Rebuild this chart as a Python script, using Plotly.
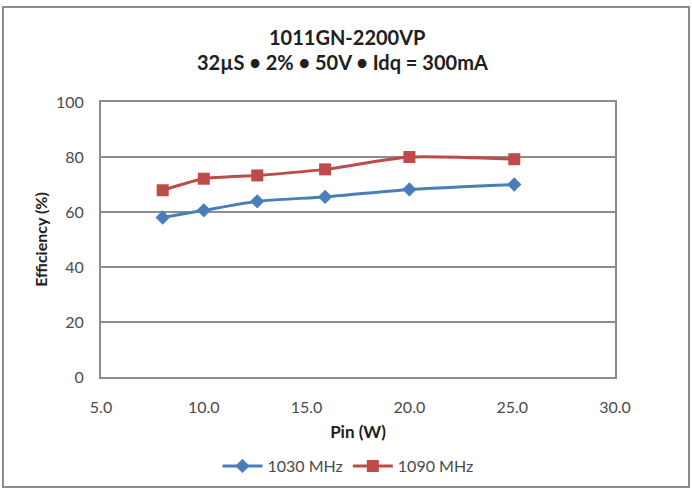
import plotly.graph_objects as go

pin_w = [8.0, 10.0, 12.6, 15.9, 20.0, 25.1]
eff_1030 = [58.0, 60.6, 63.9, 65.5, 68.2, 70.0]
eff_1090 = [67.9, 72.1, 73.3, 75.5, 80.0, 79.2]
series_names = ["1030 MHz", "1090 MHz"]
title_lines = ["1011GN-2200VP", "32µS • 2% • 50V • Idq = 300mA"]
x_ticks = [5, 10, 15, 20, 25, 30]
y_ticks = [0, 20, 40, 60, 80, 100]

FONT = "Lato"
L, R, T, B = 101, 77, 102, 112
W, H = 692, 489
pw, ph = W - L - R, H - T - B

def px(xp):
    return (xp - L) / pw

def py(yp):
    return (H - B - yp) / ph

fig = go.Figure()
fig.add_trace(go.Scatter(
    x=pin_w, y=eff_1030, name=series_names[0], mode="lines+markers",
    line=dict(color="#4A7EBB", width=3, shape="spline", smoothing=0.6),
    marker=dict(symbol="diamond", size=11, color="#4A7EBB"),
))
fig.add_trace(go.Scatter(
    x=pin_w, y=eff_1090, name=series_names[1], mode="lines+markers",
    line=dict(color="#BE4B48", width=3, shape="spline", smoothing=0.6),
    marker=dict(symbol="square", size=12, color="#BE4B48"),
))

TICKC = "#4A4A4A"
fig.update_layout(
    width=W, height=H,
    margin=dict(l=L, r=R, t=T, b=B, autoexpand=False),
    paper_bgcolor="white", plot_bgcolor="white",
    font=dict(family=FONT, size=16, color=TICKC),
    showlegend=True,
    legend=dict(orientation="h", x=px(348), xanchor="center", y=py(466), yanchor="middle",
                font=dict(family=FONT, size=16, color=TICKC), itemwidth=40,
                bgcolor="rgba(0,0,0,0)", tracegroupgap=0),
    xaxis=dict(range=[5, 30], tickvals=x_ticks, ticktext=[f"{v:.1f}" for v in x_ticks],
               showgrid=False, zeroline=False, showline=True, mirror=True, automargin=False,
               linecolor="#8C8C8C", linewidth=2, ticks="outside", ticklen=15, tickcolor="rgba(0,0,0,0)",
               tickfont=dict(family=FONT, size=16, color=TICKC),
               title=dict(text="<b>Pin (W)</b>", font=dict(family=FONT, size=17, color="#202020"), standoff=11)),
    yaxis=dict(range=[0, 100], tickvals=y_ticks, showgrid=True, gridcolor="#8C8C8C", gridwidth=2,
               zeroline=False, showline=True, mirror=True, linecolor="#8C8C8C", linewidth=2, automargin=False,
               ticks="outside", ticklen=12, tickcolor="rgba(0,0,0,0)",
               tickfont=dict(family=FONT, size=16, color=TICKC),
               title=dict(text="<b>Efficiency (%)</b>", font=dict(family=FONT, size=16, color="#202020"), standoff=4)),
)

fig.add_annotation(text="<b>" + title_lines[0] + "</b>", xref="paper", yref="paper",
                   x=px(347), y=py(37), xanchor="center", yanchor="middle", showarrow=False,
                   font=dict(family=FONT, size=20, color="#202020"))
fig.add_annotation(text="<b>" + title_lines[1] + "</b>", xref="paper", yref="paper",
                   x=px(342), y=py(62), xanchor="center", yanchor="middle", showarrow=False,
                   font=dict(family=FONT, size=20, color="#202020"))

fig.add_shape(type="rect", xref="paper", yref="paper",
              x0=px(3), x1=px(689), y0=py(487), y1=py(7),
              line=dict(color="#8C8C8C", width=2), fillcolor="rgba(0,0,0,0)", layer="below")

fig.write_html("out.html")
